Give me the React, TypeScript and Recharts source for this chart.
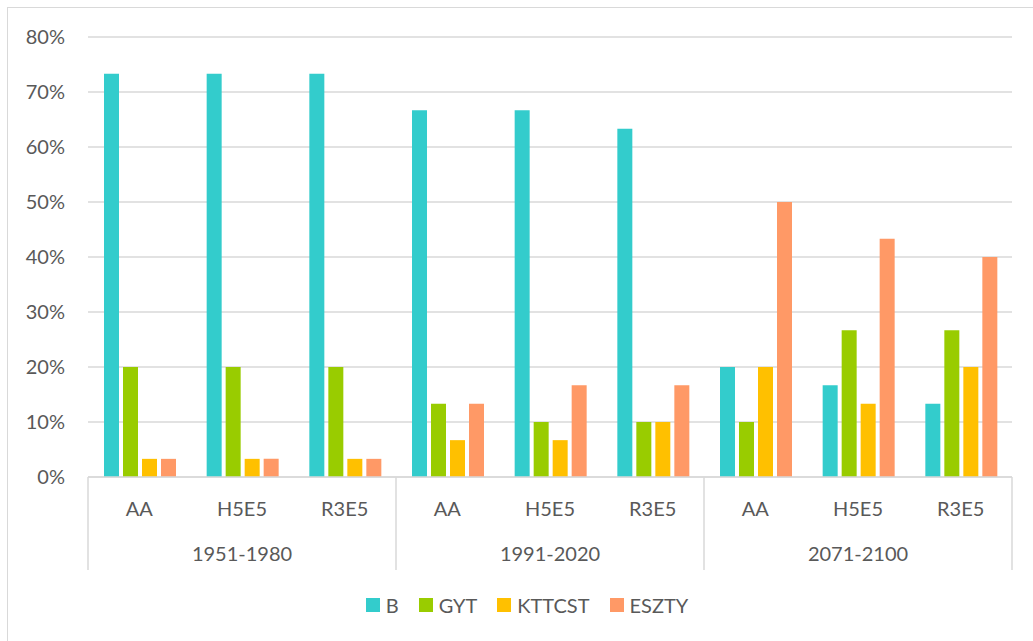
import React from 'react';
import { BarChart, Bar, XAxis, YAxis, CartesianGrid, Legend } from 'recharts';

const periods = ['1951-1980', '1991-2020', '2071-2100'];
const models = ['AA', 'H5E5', 'R3E5'];
const seriesNames = ['B', 'GYT', 'KTTCST', 'ESZTY'];
const seriesColors = ['#33CCCC', '#99CC00', '#FFC000', '#FF9966'];

const bValues = [73.3, 73.3, 73.3, 66.7, 66.7, 63.3, 20, 16.7, 13.3];
const gytValues = [20, 20, 20, 13.3, 10, 10, 10, 26.7, 26.7];
const kttcstValues = [3.3, 3.3, 3.3, 6.7, 6.7, 10, 20, 13.3, 20];
const esztyValues = [3.3, 3.3, 3.3, 13.3, 16.7, 16.7, 50, 43.3, 40];

const yTicks = [0, 10, 20, 30, 40, 50, 60, 70, 80];

const seriesValues = [bValues, gytValues, kttcstValues, esztyValues];

const data = periods.flatMap((p, i) =>
  models.map((m, j) => {
    const idx = i * 3 + j;
    const row: any = { key: `${p}|${m}`, period: p, model: m };
    seriesNames.forEach((s, k) => {
      row[s] = seriesValues[k][idx];
    });
    return row;
  })
);

const TEXT = '#595959';
const GRID = '#D9D9D9';
const FONT = 'Lato, "Open Sans", sans-serif';

const CategoryTick = (props: any) => {
  const { x, y, payload, index } = props;
  const half = payload && typeof payload.offset === 'number' && payload.offset > 0 ? payload.offset : 924 / 9 / 2;
  const row = data[index] || data.find((d) => d.key === payload.value);
  const pos = index % 3;
  const last = index === data.length - 1;
  return (
    <g>
      <text x={x} y={y + 31} textAnchor="middle" dominantBaseline="central" fill={TEXT} fontSize={20} fontFamily={FONT}>
        {row ? row.model : ''}
      </text>
      {pos === 1 && (
        <text x={x} y={y + 76} textAnchor="middle" dominantBaseline="central" fill={TEXT} fontSize={20} fontFamily={FONT}>
          {row ? row.period : ''}
        </text>
      )}
      {pos === 0 && <line x1={x - half} x2={x - half} y1={y} y2={y + 93} stroke={GRID} strokeWidth={1.5} />}
      {last && <line x1={x + half} x2={x + half} y1={y} y2={y + 93} stroke={GRID} strokeWidth={1.5} />}
    </g>
  );
};

const LegendContent = () => (
  <div
    style={{
      height: 66,
      display: 'flex',
      alignItems: 'center',
      justifyContent: 'center',
      paddingLeft: 14,
      fontFamily: FONT,
      fontSize: 20,
      color: TEXT,
    }}
  >
    {seriesNames.map((s, i) => (
      <div key={s} style={{ display: 'flex', alignItems: 'center', marginRight: i < seriesNames.length - 1 ? 20 : 0 }}>
        <div style={{ width: 14, height: 14, background: seriesColors[i], marginRight: 6 }} />
        <span>{s}</span>
      </div>
    ))}
  </div>
);

export default function App() {
  return (
    <div
      style={{
        position: 'absolute',
        left: 7,
        top: 7,
        width: 1040,
        height: 650,
        border: `1px solid ${GRID}`,
        background: '#fff',
      }}
    >
      <BarChart
        width={1025}
        height={633}
        data={data}
        margin={{ top: 29, right: 21, bottom: 3, left: 20 }}
        barCategoryGap={16}
        barGap={4}
      >
        <CartesianGrid vertical={false} stroke={GRID} strokeWidth={1.5} />
        <XAxis
          dataKey="key"
          interval={0}
          height={95}
          tickLine={false}
          tickSize={0}
          tickMargin={0}
          axisLine={{ stroke: GRID, strokeWidth: 1.5 }}
          tick={<CategoryTick />}
        />
        <YAxis
          width={60}
          domain={[0, 80]}
          ticks={yTicks}
          interval={0}
          axisLine={false}
          tickLine={false}
          tickSize={0}
          tickMargin={23}
          tickFormatter={(v: number) => `${v}%`}
          tick={{ fill: TEXT, fontSize: 20, fontFamily: FONT }}
        />
        <Legend verticalAlign="bottom" height={66} content={<LegendContent />} />
        {seriesNames.map((s, i) => (
          <Bar key={s} dataKey={s} fill={seriesColors[i]} isAnimationActive={false} />
        ))}
      </BarChart>
    </div>
  );
}
